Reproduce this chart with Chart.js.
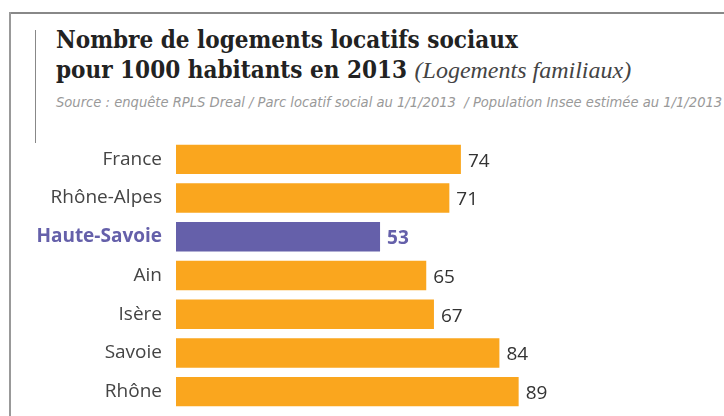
<!DOCTYPE html>
<html>
<head>
<meta charset="utf-8">
<script src="https://cdn.jsdelivr.net/npm/chart.js@4"></script>
<style>
  html, body { margin: 0; padding: 0; background: #fff; }
  #wrap { position: relative; width: 724px; height: 416px; overflow: hidden; }
  #frameTop { position: absolute; left: 9px; top: 12px; width: 720px; height: 2px; background: #888; }
  #frameLeft { position: absolute; left: 9px; top: 12px; width: 2px; height: 410px; background: #999; }
  #rule { position: absolute; left: 35px; top: 30px; width: 1px; height: 113px; background: #888; }
  .title { position: absolute; left: 56px; font-family: "DejaVu Serif Condensed", "DejaVu Serif", serif; font-weight: bold; font-size: 24px; line-height: 30px; color: #222; white-space: nowrap; }
  .title i { font-family: "Liberation Serif", serif; font-weight: normal; font-size: 24px; color: #444; }
  #source { position: absolute; left: 56px; top: 94px; font-family: "Liberation Sans Narrow", "DejaVu Sans Condensed", sans-serif; font-style: italic; font-size: 14.6px; line-height: 16px; color: #999; white-space: nowrap; }
  canvas { position: absolute; left: 0; top: 0; }
</style>
</head>
<body>
<div id="wrap">
  <div id="frameTop"></div>
  <div id="frameLeft"></div>
  <div id="rule"></div>
  <div class="title" style="top:25px">Nombre de logements locatifs sociaux</div>
  <div class="title" style="top:55px">pour 1000 habitants en 2013 <i>(Logements familiaux)</i></div>
  <div id="source">Source : enquête RPLS Dreal / Parc locatif social au 1/1/2013 &nbsp;/ Population Insee estimée au 1/1/2013</div>
  <canvas id="mycanvas" width="724" height="416"></canvas>
</div>
<script>
var territoires = ["France", "Rhône-Alpes", "Haute-Savoie", "Ain", "Isère", "Savoie", "Rhône"];
var logements = [74, 71, 53, 65, 67, 84, 89];
var miseEnAvant = "Haute-Savoie";

var orange = "#faa61e";
var violet = "#6560aa";

var barColors = territoires.map(function(t) {
    return t === miseEnAvant ? violet : orange;
});

// valeurs au bout des barres
var valeurs = {
    id: "valeurs",
    afterDatasetsDraw: function(chart) {
        var ctx = chart.ctx;
        var meta = chart.getDatasetMeta(0);
        ctx.save();
        ctx.textBaseline = "middle";
        ctx.textAlign = "left";
        meta.data.forEach(function(bar, i) {
            var fort = territoires[i] === miseEnAvant;
            ctx.font = (fort ? "bold " : "") + "19px 'Open Sans'";
            ctx.fillStyle = fort ? violet : "#333";
            ctx.fillText(logements[i], bar.x + 7, bar.y + 2);
        });
        ctx.restore();
    }
};

var ctx = document.getElementById("mycanvas");

var barGraph = new Chart(ctx, {
    type: "bar",
    data: {
        labels: territoires,
        datasets: [{
            data: logements,
            backgroundColor: barColors,
            barPercentage: 0.76,
            categoryPercentage: 1
        }]
    },
    options: {
        indexAxis: "y",
        responsive: false,
        animation: false,
        layout: { padding: { top: 140, bottom: 5, left: 0, right: 9 } },
        plugins: {
            legend: { display: false },
            tooltip: { enabled: false }
        },
        scales: {
            x: { display: false, min: 0, max: 140 },
            y: {
                grid: { display: false, drawTicks: false },
                border: { display: false },
                afterFit: function(scale) {
                    scale.width = 176;
                    scale.paddingTop = 0;
                    scale.paddingBottom = 0;
                },
                ticks: {
                    padding: 14,
                    color: function(c) { return territoires[c.index] === miseEnAvant ? violet : "#444"; },
                    font: function(c) {
                        return {
                            family: "'Open Sans'",
                            size: 19,
                            weight: territoires[c.index] === miseEnAvant ? "bold" : "normal"
                        };
                    }
                }
            }
        }
    },
    plugins: [valeurs]
});
</script>
</body>
</html>
